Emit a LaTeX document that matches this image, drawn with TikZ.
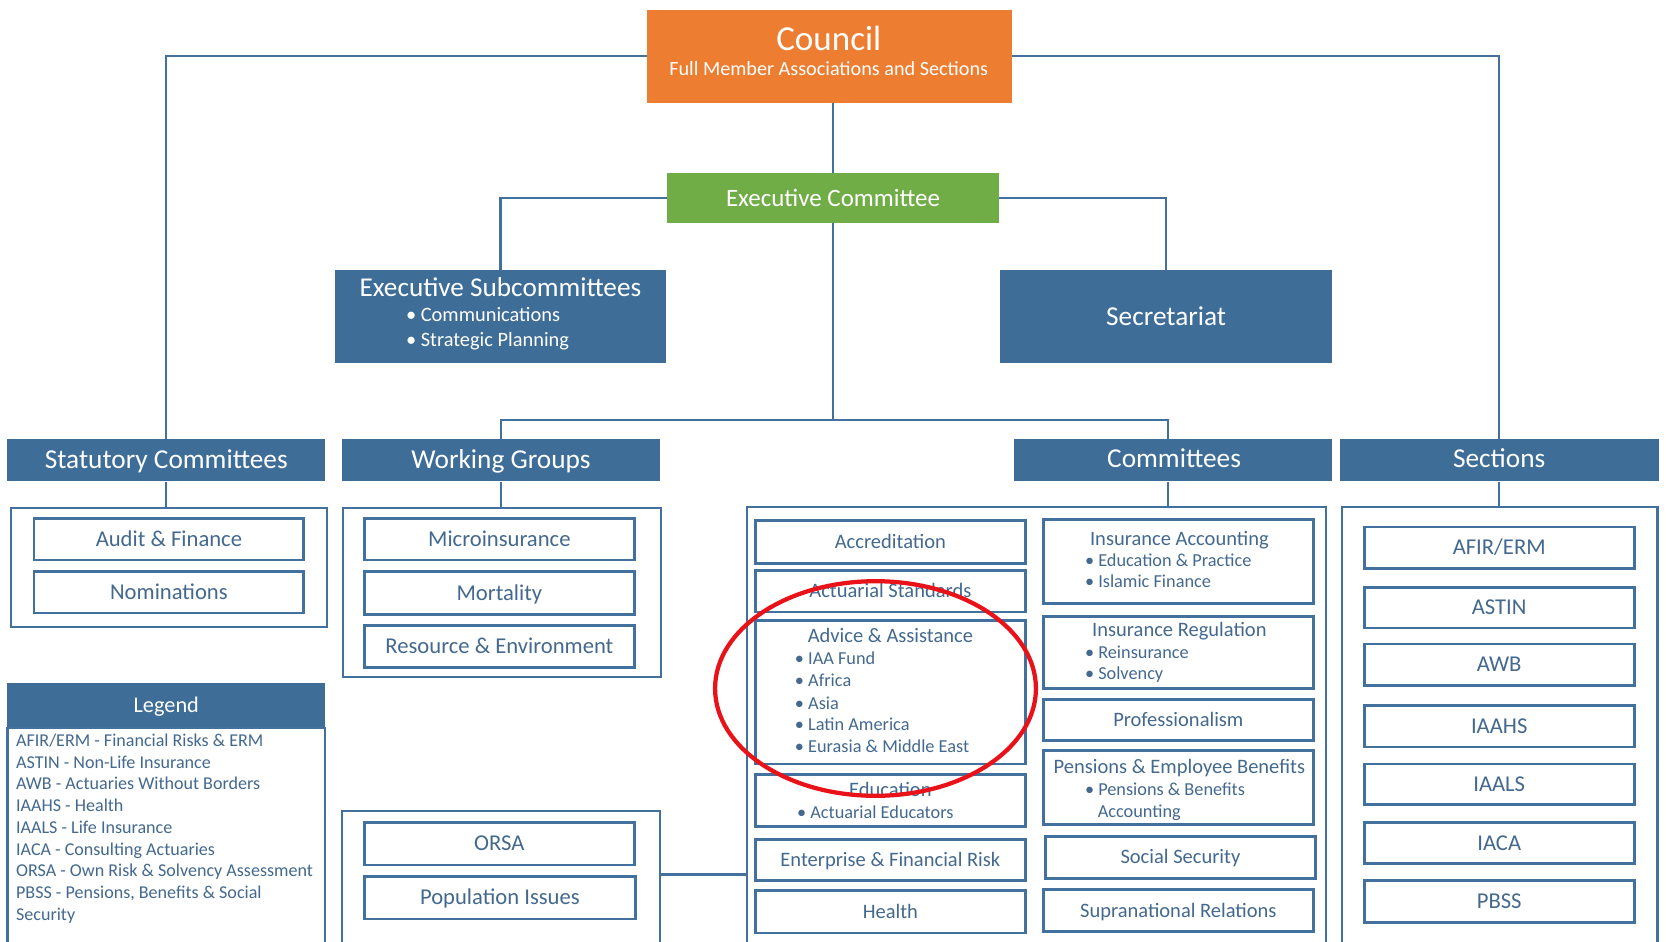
\documentclass[tikz,border=0pt]{standalone}
\usepackage{fontspec}
\setmainfont{Carlito}
\usetikzlibrary{calc}
\definecolor{hdr}{HTML}{3E6D98}
\definecolor{lnc}{HTML}{41719C}
\definecolor{txc}{HTML}{44698F}
\definecolor{orng}{HTML}{ED7D31}
\definecolor{grn}{HTML}{70AD47}
\definecolor{ringred}{RGB}{232,18,24}
\newcommand\rbox[7][]{\node[#1, minimum width={(#5-#3)*1pt}, minimum height={(#6-#4)*1pt}] (#2) at ({(#3+#5)/2},{(#4+#6)/2}) {#7};}
\begin{document}
\begin{tikzpicture}[x=1pt,y=-1pt,
  fs/.style 2 args={font=\fontsize{#1}{#1}\selectfont, text height=#2pt, text depth=0pt},
  conn/.style={draw=lnc, line width=2pt},
  fillbox/.style={draw=none, text=white, inner sep=0pt},
  hdrbox/.style={fill=hdr, draw=none, text=white, inner sep=0pt, fs={25.7}{16.2}},
  cont/.style={draw=lnc, line width=2pt, inner sep=0pt},
  ibox/.style={draw=lnc, line width=2.6pt, text=txc, inner sep=0pt, fs={21.3}{13.4}},
  cbox/.style={ibox, fs={19.3}{12.2}},
  tl/.style={anchor=west, inner sep=0pt, text=txc, fs={17.2}{10.8}},
  tc/.style={inner sep=0pt, text=txc, fs={19.3}{12.2}},
  wl/.style={anchor=west, inner sep=0pt, text=white, fs={19.2}{12.1}},
  lg/.style={anchor=west, inner sep=0pt, text=txc, fs={17}{10.7}},
]
\clip (0,0) rectangle (1568,886);
\fill[white] (0,0) rectangle (1568,886);

% top level
\rbox[fillbox, fill=orng]{council}{609}{9}{952}{97}{}
\node[fillbox, fs={33}{20.8}] (councilt) at (780,37) {Council};
\node[fillbox, fs={19}{12}] (councils) at (780,65) {Full Member Associations and Sections};
\rbox[fillbox, fill=grn, fs={23.5}{14.8}]{exec}{628}{163}{940}{210}{Executive Committee}
\rbox[fillbox, fill=hdr]{esub}{315}{254}{627}{342}{}
\node[fillbox, fs={25.6}{16.1}] (esubt) at (471,271) {Executive Subcommittees};
\node[wl] (esub1) at (382,297) {• Communications};
\node[wl] (esub2) at (382,320) {• Strategic Planning};
\rbox[hdrbox]{secr}{941}{254}{1254}{342}{Secretariat}

% headers
\rbox[hdrbox]{stat}{7}{413}{306}{453}{Statutory Committees}
\rbox[hdrbox]{wg}{322}{413}{621}{453}{Working Groups}
\rbox[hdrbox]{com}{954}{413}{1254}{453}{}
\node[fillbox, fs={25.7}{16.2}] (comt) at (1105,432) {Committees};
\rbox[hdrbox]{sech}{1261}{413}{1561}{453}{}
\node[fillbox, fs={25.7}{16.2}] (secht) at (1411,432) {Sections};

% containers
\rbox[cont]{statc}{10}{478}{308}{590}{}
\rbox[cont]{wgc}{323}{478}{622}{637}{}
\rbox[cont]{wg2}{322}{763}{621}{905}{}
\rbox[cont]{comc}{703}{477}{1248}{905}{}
\rbox[cont]{secc}{1263}{477}{1560}{905}{}

% legend
\rbox[hdrbox, fs={21}{13.2}]{legh}{7}{643}{306}{685}{Legend}
\rbox[cont]{legb}{7}{685}{306}{905}{}
\node[lg] (l1) at (15,697) {AFIR/ERM - Financial Risks \& ERM};
\node[lg] (l2) at (15,717.5) {ASTIN - Non-Life Insurance};
\node[lg] (l3) at (15,738) {AWB - Actuaries Without Borders};
\node[lg] (l4) at (15,758.5) {IAAHS - Health};
\node[lg] (l5) at (15,779) {IAALS - Life Insurance};
\node[lg] (l6) at (15,799.5) {IACA - Consulting Actuaries};
\node[lg] (l7) at (15,820) {ORSA - Own Risk \& Solvency Assessment};
\node[lg] (l8) at (15,840.5) {PBSS - Pensions, Benefits \& Social};
\node[lg] (l9) at (15,861) {Security};

% statutory
\rbox[ibox]{audit}{32}{488}{286}{527}{Audit \& Finance}
\rbox[ibox]{nomin}{32}{538}{286}{577}{Nominations}
% working groups
\rbox[ibox]{micro}{343}{488}{597}{527}{Microinsurance}
\rbox[ibox]{mort}{343}{538}{597}{578}{Mortality}
\rbox[ibox]{resenv}{343}{589}{597}{628}{Resource \& Environment}
\rbox[ibox]{orsa}{343}{774}{597}{814}{ORSA}
\rbox[ibox]{popis}{343}{825}{598}{865}{Population Issues}

% committees left column
\rbox[cbox]{accr}{711}{490}{965}{530}{Accreditation}
\rbox[cbox]{actst}{711}{537}{965}{576}{Actuarial Standards}
\rbox[cbox]{advice}{711}{584}{965}{719}{}
\node[tc] (advt) at (838,599) {Advice \& Assistance};
\node[tl] (adv1) at (748,620) {• IAA Fund};
\node[tl] (adv2) at (748,641) {• Africa};
\node[tl] (adv3) at (748,662) {• Asia};
\node[tl] (adv4) at (748,682) {• Latin America};
\node[tl] (adv5) at (748,703) {• Eurasia \& Middle East};
\rbox[cbox]{educ}{711}{729}{965}{778}{}
\node[tc] (edt) at (838,744) {Education};
\node[tl] (ed1) at (750,765) {• Actuarial Educators};
\rbox[cbox]{efr}{711}{790}{965}{829}{Enterprise \& Financial Risk}
\rbox[cbox]{health}{711}{838}{965}{878}{Health}

% committees right column
\rbox[cbox]{insacc}{982}{489}{1236}{568}{}
\node[tc] (iat) at (1110,507) {Insurance Accounting};
\node[tl] (ia1) at (1021,528) {• Education \& Practice};
\node[tl] (ia2) at (1021,548) {• Islamic Finance};
\rbox[cbox]{insreg}{982}{580}{1236}{648}{}
\node[tc] (irt) at (1110,593) {Insurance Regulation};
\node[tl] (ir1) at (1021,614) {• Reinsurance};
\node[tl] (ir2) at (1021,634) {• Solvency};
\rbox[cbox]{prof}{982}{658}{1236}{697}{Professionalism}
\rbox[cbox]{pens}{982}{706}{1236}{776}{}
\node[tc] (pt) at (1110,722) {Pensions \& Employee Benefits};
\node[tl] (p1) at (1021,743) {• Pensions \& Benefits};
\node[tl] (p2) at (1033,764) {Accounting};
\rbox[cbox]{socsec}{984}{787}{1238}{827}{Social Security}
\rbox[cbox]{supra}{982}{837}{1236}{877}{Supranational Relations}

% sections
\rbox[ibox]{afir}{1284}{496}{1538}{535}{AFIR/ERM}
\rbox[ibox]{astin}{1284}{553}{1538}{591}{ASTIN}
\rbox[ibox]{awb}{1284}{606}{1538}{645}{AWB}
\rbox[ibox]{iaahs}{1284}{664}{1538}{703}{IAAHS}
\rbox[ibox]{iaals}{1284}{719}{1538}{757}{IAALS}
\rbox[ibox]{iaca}{1284}{774}{1538}{813}{IACA}
\rbox[ibox]{pbss}{1284}{829}{1538}{868}{PBSS}

% connectors
\coordinate (bus) at (784,395);
\coordinate (cbus) at (1099,395);
\coordinate (w2o) at (621,823);
\draw[conn] (council.west) -| (stat.north);
\draw[conn] (council.east) -| (sech.north);
\draw[conn] (exec.north) -- (exec.north |- council.south);
\draw[conn] (exec.west) -| (esub.north);
\draw[conn] (exec.east) -| (secr.north);
\draw[conn] (exec.south) -- (bus);
\draw[conn] (wg.north) |- (cbus) -- (cbus |- com.north);
\draw[conn] (stat.south) -- (stat.south |- statc.north);
\draw[conn] (wg.south) -- (wg.south |- wgc.north);
\draw[conn] (com.south -| cbus) -- (cbus |- comc.north);
\draw[conn] (sech.south) -- (sech.south |- secc.north);
\draw[conn] (w2o) -- (w2o -| comc.west);

% red ring
\draw[ringred, line width=4pt] (824,648) ellipse [x radius=151, y radius=101];
\end{tikzpicture}
\end{document}
